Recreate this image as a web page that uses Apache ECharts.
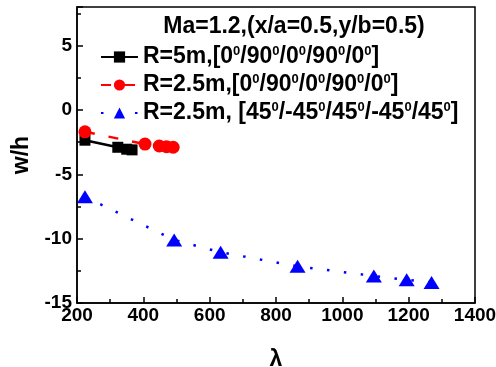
<!DOCTYPE html>
<html>
<head>
<meta charset="utf-8">
<script src="https://cdn.jsdelivr.net/npm/echarts@6/dist/echarts.min.js"></script>
<style>
  html, body { margin: 0; padding: 0; background: #fff; }
  #chart { width: 496px; height: 367px; }
</style>
</head>
<body>
<div id="chart"></div>
<script>
// values
const xTicks = [200, 400, 600, 800, 1000, 1200, 1400];
const yTicks = [-15, -10, -5, 0, 5];
const r5Cross = [[224, -2.35], [323, -2.9], [350, -3.05], [366, -3.1]];
const r25Cross = [[224, -1.7], [405, -2.65], [448, -2.8], [470, -2.85], [490, -2.9]];
const r25Angle = [[224, -6.75], [493, -10.1], [633, -11.06], [865, -12.15], [1095, -12.9], [1194, -13.2], [1269, -13.4]];

const names = ['R=5m,[0/90/0/90/0]', 'R=2.5m,[0/90/0/90/0]', 'R=2.5m, [45/-45/45/-45/45]'];
const labels = {
  [names[0]]: 'R=5m,[0{s|0}/90{s|0}/0{s|0}/90{s|0}/0{s|0}]',
  [names[1]]: 'R=2.5m,[0{s|0}/90{s|0}/0{s|0}/90{s|0}/0{s|0}]',
  [names[2]]: 'R=2.5m, [45{s|0}/-45{s|0}/45{s|0}/-45{s|0}/45{s|0}]'
};

const font = 'Liberation Sans, Arial, sans-serif';
const chart = echarts.init(document.getElementById('chart'));

const tickStyle = {
  axisLine: { onZero: false, lineStyle: { color: '#000', width: 1.5 } },
  axisTick: { inside: true, length: 6, lineStyle: { color: '#000', width: 1.5 } },
  minorTick: { show: true, splitNumber: 2, length: 4, lineStyle: { color: '#000', width: 1.5 } },
  splitLine: { show: false }
};

chart.setOption({
  animation: false,
  title: {
    text: 'Ma=1.2,(x/a=0.5,y/b=0.5)',
    left: 289,
    top: 10,
    textAlign: 'center',
    textStyle: { fontFamily: font, fontSize: 23, fontWeight: 'bold', color: '#000' }
  },
  legend: {
    orient: 'vertical',
    left: 95,
    top: 40,
    itemWidth: 37,
    itemHeight: 14,
    itemGap: 4,
    data: names,
    formatter: n => labels[n],
    textStyle: {
      fontFamily: font, fontSize: 23, fontWeight: 'bold', color: '#000', lineHeight: 24,
      rich: {
        s: { fontFamily: font, fontSize: 13, fontWeight: 'bold', color: '#000', verticalAlign: 'top', lineHeight: 13 }
      }
    }
  },
  grid: {
    left: 77, right: 21, top: 7, bottom: 64,
    containLabel: false, outerBoundsMode: 'none',
    show: true, borderColor: '#000', borderWidth: 1.5
  },
  xAxis: {
    type: 'value',
    min: 200, max: 1400, interval: 200,
    name: 'λ',
    nameLocation: 'middle',
    nameGap: 45,
    nameTextStyle: { fontFamily: font, fontSize: 23, fontWeight: 'bold', color: '#000' },
    axisLabel: { fontFamily: font, fontSize: 19, fontWeight: 'bold', color: '#000', margin: 3, formatter: v => xTicks.includes(v) ? v : '' },
    ...tickStyle
  },
  yAxis: {
    type: 'value',
    min: -15, max: 8, interval: 5,
    name: 'w/h',
    nameLocation: 'middle',
    nameGap: 38,
    nameTextStyle: { fontFamily: font, fontSize: 23, fontWeight: 'bold', color: '#000' },
    axisLabel: { fontFamily: font, fontSize: 19, fontWeight: 'bold', color: '#000', margin: 5, formatter: v => yTicks.includes(v) ? v : '' },
    ...tickStyle
  },
  series: [
    {
      name: names[0], type: 'line', data: r5Cross,
      symbol: 'rect', symbolSize: 11,
      itemStyle: { color: '#000' },
      lineStyle: { color: '#000', width: 2.5 }
    },
    {
      name: names[1], type: 'line', data: r25Cross,
      symbol: 'circle', symbolSize: 13,
      itemStyle: { color: '#ff0000' },
      lineStyle: { color: '#ff0000', width: 2.5, type: [10, 14] }
    },
    {
      name: names[2], type: 'line', data: r25Angle,
      symbol: 'triangle', symbolSize: [16, 13],
      itemStyle: { color: '#0000ff' },
      lineStyle: { color: '#0000ff', width: 2.5, type: [2.5, 14.5] }
    }
  ]
});
</script>
</body>
</html>
